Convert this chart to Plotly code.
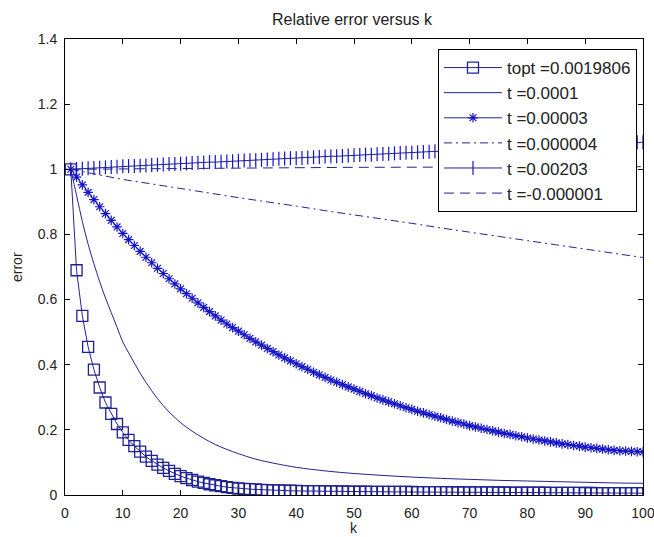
import plotly.graph_objects as go

k = list(range(1, 101))

err_topt = [1.000, 0.690, 0.550, 0.455, 0.385, 0.330, 0.284, 0.249, 0.218, 0.192,
            0.169, 0.150, 0.133, 0.118, 0.105, 0.093, 0.083, 0.074, 0.065, 0.058,
            0.052, 0.046, 0.041, 0.037, 0.033, 0.030, 0.027, 0.024, 0.022, 0.020,
            0.019, 0.018, 0.017, 0.016, 0.015, 0.0145, 0.014, 0.0135, 0.013, 0.0125,
            0.0122, 0.0120, 0.0118, 0.0116, 0.0114, 0.0112, 0.0110, 0.0108, 0.0106, 0.0104,
            0.0102, 0.0100, 0.0099, 0.0098, 0.0097, 0.0096, 0.0095, 0.0094, 0.0093, 0.0092,
            0.0091, 0.0090, 0.0089, 0.0088, 0.0087, 0.0086, 0.0085, 0.0084, 0.0083, 0.0082,
            0.0081, 0.0080, 0.0079, 0.0078, 0.0077, 0.0076, 0.0075, 0.0074, 0.0073, 0.0072,
            0.0071, 0.0070, 0.0069, 0.0068, 0.0067, 0.0066, 0.0065, 0.0064, 0.0063, 0.0062,
            0.0061, 0.0060, 0.0060, 0.0059, 0.0059, 0.0058, 0.0058, 0.0057, 0.0057, 0.0056]

k_t1 = [1, 2, 3, 4, 5, 6, 7, 8, 9, 10, 11, 12, 13, 14, 15, 16, 17, 18, 19, 20,
        22, 24, 26, 28, 30, 33, 36, 40, 45, 50, 55, 60, 65, 70, 75, 80, 85, 90, 95, 100]
err_t1 = [1.000, 0.920, 0.840, 0.770, 0.710, 0.655, 0.605, 0.560, 0.515, 0.470,
          0.437, 0.405, 0.374, 0.346, 0.320, 0.296, 0.274, 0.255, 0.238, 0.222,
          0.196, 0.174, 0.155, 0.140, 0.127, 0.110, 0.098, 0.085, 0.074, 0.066,
          0.060, 0.055, 0.051, 0.048, 0.045, 0.043, 0.041, 0.039, 0.037, 0.036]

err_t2 = [1.000, 0.976, 0.952, 0.929, 0.907, 0.885, 0.864, 0.843, 0.823, 0.803,
          0.784, 0.766, 0.748, 0.730, 0.713, 0.696, 0.680, 0.664, 0.648, 0.633,
          0.618, 0.604, 0.590, 0.576, 0.563, 0.550, 0.537, 0.525, 0.514, 0.503,
          0.492, 0.481, 0.470, 0.460, 0.450, 0.440, 0.430, 0.421, 0.412, 0.403,
          0.394, 0.386, 0.377, 0.369, 0.361, 0.353, 0.346, 0.339, 0.332, 0.325,
          0.318, 0.311, 0.305, 0.298, 0.292, 0.286, 0.280, 0.274, 0.268, 0.263,
          0.257, 0.252, 0.247, 0.242, 0.237, 0.232, 0.227, 0.222, 0.218, 0.213,
          0.209, 0.205, 0.201, 0.197, 0.193, 0.189, 0.186, 0.182, 0.179, 0.175,
          0.172, 0.169, 0.166, 0.163, 0.160, 0.157, 0.155, 0.152, 0.150, 0.147,
          0.145, 0.143, 0.141, 0.139, 0.137, 0.136, 0.135, 0.134, 0.133, 0.132]

k_t3 = [1, 5, 10, 15, 20, 25, 30, 35, 40, 45, 50, 55, 60, 65, 70, 75, 80, 85, 90, 95, 100]
err_t3 = [1.000, 0.986, 0.969, 0.955, 0.941, 0.927, 0.913, 0.900, 0.887, 0.873, 0.860,
          0.847, 0.834, 0.820, 0.807, 0.794, 0.781, 0.768, 0.755, 0.742, 0.729]

err_t4 = [1.000, 1.001, 1.002, 1.003, 1.004, 1.005, 1.006, 1.007, 1.008, 1.009,
          1.010, 1.010, 1.011, 1.012, 1.013, 1.014, 1.015, 1.016, 1.016, 1.017,
          1.018, 1.019, 1.020, 1.021, 1.022, 1.022, 1.023, 1.024, 1.025, 1.026,
          1.027, 1.028, 1.028, 1.029, 1.030, 1.031, 1.032, 1.033, 1.034, 1.034,
          1.035, 1.036, 1.037, 1.038, 1.039, 1.040, 1.040, 1.041, 1.042, 1.043,
          1.044, 1.045, 1.045, 1.046, 1.047, 1.048, 1.049, 1.050, 1.051, 1.051,
          1.052, 1.053, 1.054, 1.055, 1.055, 1.056, 1.057, 1.058, 1.059, 1.059,
          1.060, 1.061, 1.062, 1.063, 1.063, 1.064, 1.065, 1.066, 1.067, 1.067,
          1.068, 1.069, 1.070, 1.071, 1.071, 1.072, 1.073, 1.074, 1.075, 1.075,
          1.076, 1.077, 1.078, 1.079, 1.079, 1.080, 1.081, 1.082, 1.083, 1.083]

k_t5 = [1, 25, 50, 75, 100]
err_t5 = [1.000, 1.004, 1.006, 1.007, 1.008]

names = ["topt =0.0019806", "t =0.0001", "t =0.00003", "t =0.000004", "t =0.00203", "t =-0.000001"]
title_text = "Relative error versus k"
x_label = "k"
y_label = "error"

LINE = "#23238f"
MARK = "#1515c8"
FONT = "Liberation Sans"
TXT = "#222"

fig = go.Figure()
fig.add_trace(go.Scatter(x=k, y=err_topt, name=names[0], mode="lines+markers",
                         line=dict(color=LINE, width=1),
                         marker=dict(symbol="square-open", size=11, color="#202095",
                                     line=dict(width=1.3, color="#202095"))))
fig.add_trace(go.Scatter(x=k_t1, y=err_t1, name=names[1], mode="lines",
                         line=dict(color=LINE, width=1, shape="spline")))
fig.add_trace(go.Scatter(x=k, y=err_t2, name=names[2], mode="lines+markers",
                         line=dict(color=LINE, width=1),
                         marker=dict(symbol="asterisk-open", size=8, color=MARK,
                                     line=dict(width=1.2, color=MARK))))
fig.add_trace(go.Scatter(x=k_t3, y=err_t3, name=names[3], mode="lines",
                         line=dict(color=LINE, width=1, dash="8px,4px,2px,4px", shape="spline")))
fig.add_trace(go.Scatter(x=k, y=err_t4, name=names[4], mode="lines+markers",
                         line=dict(color=LINE, width=1),
                         marker=dict(symbol="line-ns-open", size=10, color=MARK,
                                     line=dict(width=1.2, color=MARK))))
fig.add_trace(go.Scatter(x=k_t5, y=err_t5, name=names[5], mode="lines",
                         line=dict(color=LINE, width=1, dash="10px,6px")))

axis_common = dict(showline=True, linecolor="black", linewidth=1, mirror="ticks",
                   ticks="inside", ticklen=5, tickcolor="black", showgrid=False,
                   zeroline=False, ticklabeloverflow="allow", automargin=False,
                   tickfont=dict(family=FONT, size=14, color=TXT))

fig.update_layout(
    width=654, height=537,
    margin=dict(l=65, r=11, t=39, b=42),
    paper_bgcolor="white", plot_bgcolor="white",
    title=dict(text=title_text, x=352 / 654, xanchor="center", y=1 - 19 / 537, yref="container",
               yanchor="middle", font=dict(family=FONT, size=16, color=TXT)),
    xaxis=dict(range=[0, 100], dtick=10, ticklabelstandoff=5, **axis_common),
    yaxis=dict(range=[0, 1.4], dtick=0.2, ticklabelstandoff=4, **axis_common),
    legend=dict(x=0.9896, y=0.978, xanchor="right", yanchor="top",
                bgcolor="white", bordercolor="black", borderwidth=1,
                font=dict(family=FONT, size=17, color=TXT),
                tracegroupgap=0, itemwidth=58),
    showlegend=True,
    annotations=[
        dict(text=x_label, xref="paper", yref="paper", x=0.5, y=-(528 - 495) / 456,
             xanchor="center", yanchor="middle", showarrow=False,
             font=dict(family=FONT, size=14, color=TXT)),
        dict(text=y_label, xref="paper", yref="paper", x=-(65 - 17) / 578, y=0.5,
             xanchor="center", yanchor="middle", showarrow=False, textangle=-90,
             font=dict(family=FONT, size=14, color=TXT)),
    ],
)

fig.write_html("out.html")
